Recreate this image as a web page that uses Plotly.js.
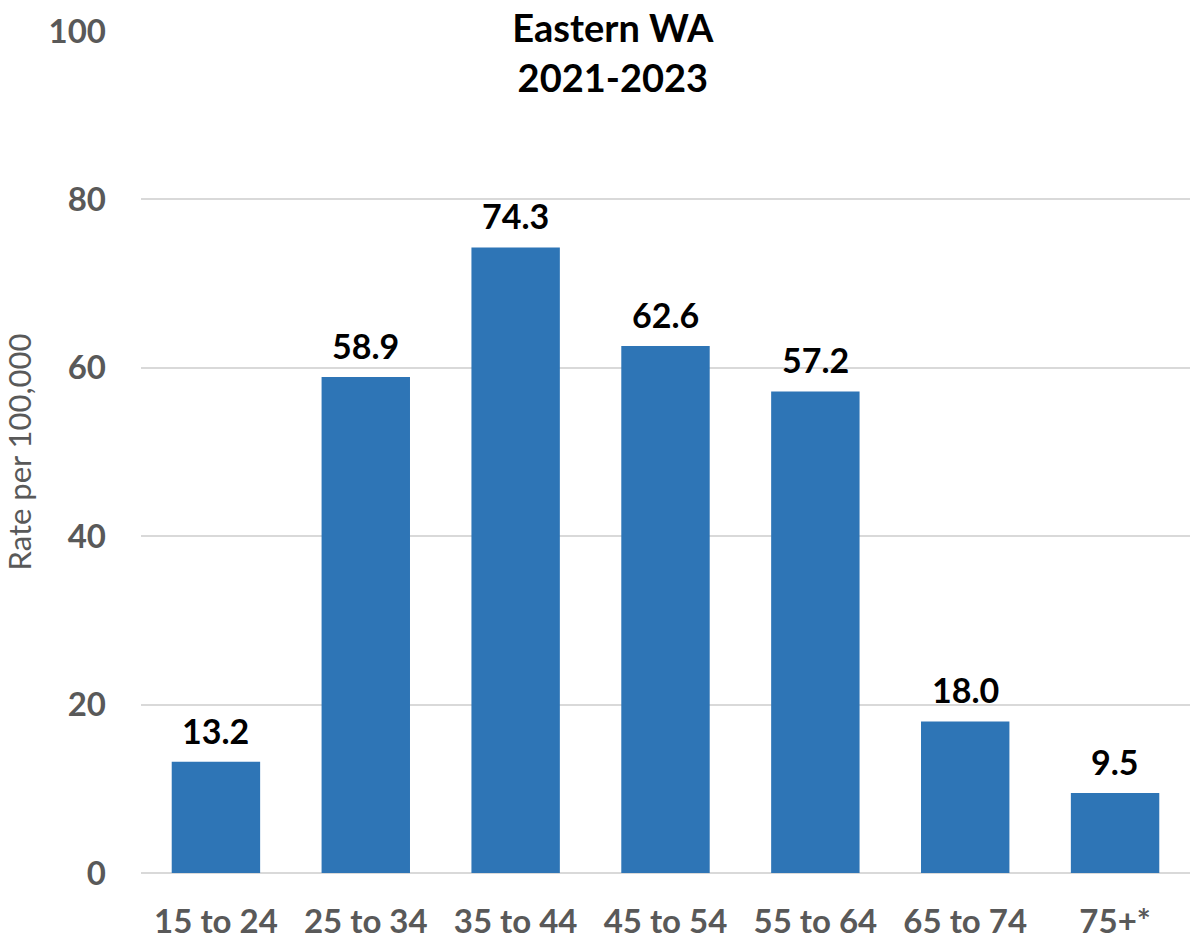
<!DOCTYPE html>
<html><head><meta charset="utf-8">
<script src="https://cdn.plot.ly/plotly-3.0.1.min.js"></script>
<style>html,body{margin:0;padding:0;background:#fff}#chart{width:1190px;height:940px}</style>
</head><body><div id="chart"></div>
<script>
const categories = ["15 to 24","25 to 34","35 to 44","45 to 54","55 to 64","65 to 74","75+*"];
const rates = [13.2, 58.9, 74.3, 62.6, 57.2, 18.0, 9.5];
const yTicks = [0, 20, 40, 60, 80, 100];

const FONT = "Lato, 'Open Sans', sans-serif";
const labelAnnotations = categories.map((c, i) => ({
  x: c, y: rates[i], xref: 'x', yref: 'y',
  text: rates[i].toFixed(1), showarrow: false,
  xanchor: 'center', yanchor: 'bottom', yshift: 9,
  font: {family: FONT, size: 34, color: '#000', weight: 'bold'}
}));

Plotly.newPlot('chart', [{
  type: 'bar',
  x: categories,
  y: rates,
  marker: {color: '#2E75B6'},
  hoverinfo: 'x+y'
}], {
  width: 1190, height: 940,
  margin: {l: 141, r: 0, t: 31, b: 67},
  paper_bgcolor: '#fff', plot_bgcolor: '#fff',
  bargap: 0.41,
  showlegend: false,
  annotations: labelAnnotations,
  title: {
    text: 'Eastern WA<br>2021-2023',
    font: {family: FONT, size: 38, color: '#000', weight: 'bold'},
    x: 0.515, xref: 'container', xanchor: 'center',
    y: 0.955, yref: 'container', yanchor: 'middle'
  },
  xaxis: {
    type: 'category',
    tickfont: {family: FONT, size: 33, color: '#595959', weight: 'bold'},
    showgrid: false, zeroline: false, showline: false,
    ticks: '', ticklabelstandoff: 26
  },
  yaxis: {
    range: [0, 100],
    tickvals: yTicks,
    ticktext: yTicks.map(String),
    tickfont: {family: FONT, size: 33, color: '#595959', weight: 'bold'},
    showgrid: true, gridcolor: '#D9D9D9', gridwidth: 2,
    zeroline: true, zerolinecolor: '#D9D9D9', zerolinewidth: 2,
    showline: false, ticks: '', ticklabelstandoff: 34,
    title: {text: 'Rate per 100,000', font: {family: FONT, size: 31, color: '#595959'}, standoff: 8}
  }
}, {displayModeBar: false, staticPlot: true});
</script></body></html>
